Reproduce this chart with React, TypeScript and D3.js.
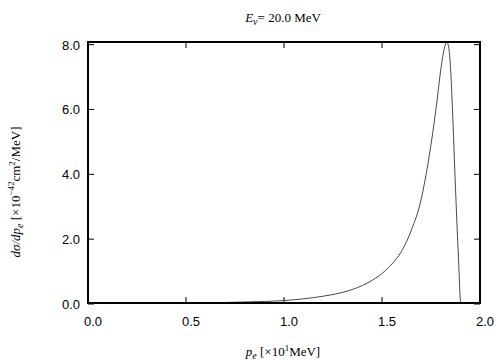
import { useRef, useEffect } from "react";
import * as d3 from "d3";

// electron momentum p_e [x10 MeV] and cross section [x10^-42 cm^2/MeV]
const pe = [0, 0.5, 0.6, 0.7, 0.8, 0.9, 1.0, 1.1, 1.2, 1.3, 1.35, 1.4, 1.45, 1.5, 1.55, 1.6, 1.65, 1.7, 1.72, 1.74, 1.76, 1.78, 1.8, 1.82, 1.83, 1.84, 1.85, 1.86, 1.87, 1.88, 1.89, 1.902, 2.0];
const dsig = [0, 0.003, 0.008, 0.016, 0.03, 0.048, 0.075, 0.13, 0.21, 0.33, 0.42, 0.54, 0.7, 0.91, 1.2, 1.6, 2.25, 3.2, 3.8, 4.5, 5.3, 6.2, 7.2, 7.9, 8.05, 7.9, 7.2, 5.9, 4.3, 2.8, 1.4, 0, 0];
const xTicks = [0, 0.5, 1.0, 1.5, 2.0];
const yTicks = [0, 2, 4, 6, 8];

function drawChart(svgRef) {
    const width = 504, height = 360;
    const m = { left: 88, right: 24, top: 42, bottom: 57 };

    const svg = d3.select(svgRef.current);
    svg.selectAll("*").remove();
    svg.attr("width", width).attr("height", height);

    const x = d3.scaleLinear().domain([0, 2]).range([m.left, width - m.right]);
    const y = d3.scaleLinear().domain([0, 8.05]).range([height - m.bottom, m.top]);
    const y0 = y(0), yTop = m.top;

    const sans = "'Liberation Sans', Arial, sans-serif";
    const serif = "'Liberation Serif', 'Times New Roman', serif";

    // ticks (inside, mirrored)
    const tk = svg.append("g").attr("stroke", "#000").attr("stroke-width", 1);
    xTicks.forEach(t => {
        tk.append("line").attr("x1", x(t)).attr("x2", x(t)).attr("y1", y0).attr("y2", y0 - 6);
        tk.append("line").attr("x1", x(t)).attr("x2", x(t)).attr("y1", yTop).attr("y2", yTop + 6);
    });
    yTicks.forEach(t => {
        tk.append("line").attr("x1", m.left).attr("x2", m.left + 6).attr("y1", y(t) + 1).attr("y2", y(t) + 1);
        tk.append("line").attr("x1", width - m.right).attr("x2", width - m.right - 6).attr("y1", y(t) + 1).attr("y2", y(t) + 1);
    });

    svg.append("g").selectAll("text").data(xTicks).join("text")
        .attr("x", d => x(d) + 5).attr("y", 326)
        .attr("text-anchor", "middle").attr("font-family", sans).attr("font-size", 13)
        .text(d => d.toFixed(1));
    svg.append("g").selectAll("text").data(yTicks).join("text")
        .attr("x", 80).attr("y", d => y(d) + 6)
        .attr("text-anchor", "end").attr("font-family", sans).attr("font-size", 13)
        .text(d => d.toFixed(1));

    // curve
    const line = d3.line()
        .x((d, i) => x(pe[i]))
        .y(d => y(d))
        .curve(d3.curveMonotoneX);
    svg.append("path").attr("d", line(dsig))
        .attr("fill", "none").attr("stroke", "#333").attr("stroke-width", 0.9);

    // frame
    svg.append("rect")
        .attr("x", m.left).attr("y", yTop)
        .attr("width", width - m.right - m.left).attr("height", y0 - yTop)
        .attr("fill", "none").attr("stroke", "#000").attr("stroke-width", 2);

    // title
    const title = svg.append("text").attr("x", 283).attr("y", 22)
        .attr("text-anchor", "middle").attr("font-family", serif).attr("font-size", 13);
    title.append("tspan").attr("font-style", "italic").text("E");
    title.append("tspan").attr("font-style", "italic").attr("font-size", 10).attr("dy", 3).text("ν");
    title.append("tspan").attr("dy", -3).text("= 20.0 MeV");

    // x label
    const xl = svg.append("text").attr("x", 283).attr("y", 356)
        .attr("text-anchor", "middle").attr("font-family", serif).attr("font-size", 13);
    xl.append("tspan").attr("font-style", "italic").text("p");
    xl.append("tspan").attr("font-style", "italic").attr("font-size", 10).attr("dy", 3).text("e");
    xl.append("tspan").attr("dy", -3).text(" [×10");
    xl.append("tspan").attr("font-size", 9).attr("dy", -5).text("1");
    xl.append("tspan").attr("dy", 5).text("MeV]");

    // y label
    const yl = svg.append("text").attr("transform", "translate(20,192) rotate(-90)")
        .attr("text-anchor", "middle").attr("font-family", serif).attr("font-size", 13);
    yl.append("tspan").attr("font-style", "italic").text("dσ/dp");
    yl.append("tspan").attr("font-style", "italic").attr("font-size", 10).attr("dy", 3).text("e");
    yl.append("tspan").attr("dy", -3).text(" [×10");
    yl.append("tspan").attr("font-size", 9).attr("dy", -6).text("−42");
    yl.append("tspan").attr("dy", 6).text("cm");
    yl.append("tspan").attr("font-size", 9).attr("dy", -5).text("2");
    yl.append("tspan").attr("dy", 5).text("/MeV]");
}

export default function App() {
    const svg = useRef(null);
    useEffect(() => {
        drawChart(svg);
    }, [svg]);

    return <svg ref={svg} style={{ position: "absolute", left: 0, top: 0 }} />;
}
